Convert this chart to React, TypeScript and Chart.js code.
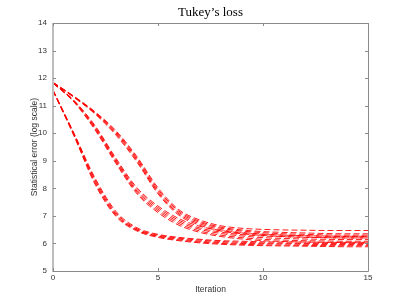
import React, { useEffect, useRef } from "react";
import { Chart, registerables } from "chart.js";

Chart.register(...registerables);

const iterations = [0, 1, 2, 3, 4, 5, 6, 7, 8, 9, 10, 11, 12, 13, 14, 15];

const groupA1 = [11.54, 9.9, 8.15, 6.98, 6.45, 6.22, 6.1, 6.02, 5.97, 5.94, 5.92, 5.91, 5.9, 5.89, 5.88, 5.88];
const groupA2 = [11.55, 9.92, 8.2, 7.02, 6.48, 6.25, 6.13, 6.05, 6.0, 5.97, 5.95, 5.94, 5.93, 5.92, 5.92, 5.92];
const groupA3 = [11.55, 9.95, 8.26, 7.06, 6.5, 6.27, 6.16, 6.08, 6.03, 6.0, 5.99, 5.98, 5.97, 5.96, 5.96, 5.96];
const groupA4 = [11.56, 9.98, 8.32, 7.11, 6.53, 6.3, 6.19, 6.12, 6.07, 6.04, 6.02, 6.01, 6.0, 6.0, 6.0, 6.0];
const groupA5 = [11.57, 10.0, 8.38, 7.16, 6.57, 6.33, 6.22, 6.15, 6.1, 6.08, 6.06, 6.05, 6.05, 6.04, 6.04, 6.04];

const groupB1 = [11.82, 11.13, 10.12, 8.9, 7.8, 7.12, 6.66, 6.4, 6.25, 6.16, 6.1, 6.07, 6.05, 6.04, 6.03, 6.02];
const groupB2 = [11.82, 11.14, 10.16, 8.95, 7.85, 7.18, 6.72, 6.45, 6.3, 6.21, 6.15, 6.12, 6.1, 6.09, 6.08, 6.08];
const groupB3 = [11.82, 11.16, 10.2, 8.99, 7.9, 7.24, 6.78, 6.51, 6.36, 6.27, 6.21, 6.18, 6.16, 6.15, 6.14, 6.14];
const groupB4 = [11.83, 11.18, 10.24, 9.04, 7.96, 7.3, 6.84, 6.56, 6.41, 6.32, 6.27, 6.24, 6.22, 6.21, 6.2, 6.2];
const groupB5 = [11.83, 11.19, 10.28, 9.09, 8.02, 7.36, 6.9, 6.62, 6.47, 6.38, 6.33, 6.3, 6.28, 6.27, 6.26, 6.26];

const groupC1 = [11.83, 11.3, 10.7, 9.93, 8.95, 7.8, 7.02, 6.66, 6.45, 6.35, 6.29, 6.25, 6.23, 6.21, 6.2, 6.2];
const groupC2 = [11.83, 11.31, 10.72, 9.97, 9.0, 7.85, 7.07, 6.71, 6.5, 6.4, 6.34, 6.3, 6.28, 6.26, 6.25, 6.25];
const groupC3 = [11.84, 11.32, 10.74, 10.01, 9.05, 7.9, 7.12, 6.76, 6.55, 6.45, 6.39, 6.35, 6.33, 6.31, 6.3, 6.3];
const groupC4 = [11.84, 11.33, 10.76, 10.05, 9.1, 7.96, 7.17, 6.8, 6.59, 6.49, 6.43, 6.4, 6.38, 6.36, 6.35, 6.35];
const groupC5 = [11.85, 11.34, 10.78, 10.09, 9.15, 8.02, 7.22, 6.85, 6.64, 6.55, 6.51, 6.49, 6.48, 6.47, 6.47, 6.47];

const allSeries = [
  groupA1, groupA2, groupA3, groupA4, groupA5,
  groupB1, groupB2, groupB3, groupB4, groupB5,
  groupC1, groupC2, groupC3, groupC4, groupC5,
];

const xTicks = [0, 5, 10, 15];
const yTicks = [5, 6, 7, 8, 9, 10, 11, 12, 13, 14];

const titleText = "Tukey\u2019s loss";
const xTitle = "Iteration";
const yTitle = "Statistical error (log scale)";

const framePlugin = {
  id: "frame",
  afterDraw(chart: any) {
    const { ctx, chartArea } = chart;
    const { left, right, top, bottom } = chartArea;
    const xs = chart.scales.x;
    const ys = chart.scales.y;
    ctx.save();
    ctx.fillStyle = "#000";
    ctx.font = "13px 'Liberation Serif', serif";
    ctx.textAlign = "center";
    ctx.textBaseline = "middle";
    ctx.fillText(titleText, (left + right) / 2, 12.5);
    ctx.strokeStyle = "#8a8a8a";
    ctx.lineWidth = 1;
    ctx.beginPath();
    ctx.moveTo(left, top + 0.5);
    ctx.lineTo(right + 0.5, top + 0.5);
    ctx.lineTo(right + 0.5, bottom + 0.5);
    ctx.lineTo(left, bottom + 0.5);
    ctx.stroke();
    ctx.strokeStyle = "#bdbdbd";
    ctx.lineWidth = 2;
    ctx.beginPath();
    ctx.moveTo(left, top);
    ctx.lineTo(left, bottom + 1);
    ctx.stroke();
    ctx.strokeStyle = "#8a8a8a";
    ctx.lineWidth = 1;
    const tl = 3;
    ctx.beginPath();
    for (const v of xTicks) {
      const px = Math.round(xs.getPixelForValue(v)) + 0.5;
      ctx.moveTo(px, bottom);
      ctx.lineTo(px, bottom - tl);
      ctx.moveTo(px, top);
      ctx.lineTo(px, top + tl);
    }
    for (const v of yTicks) {
      const py = Math.round(ys.getPixelForValue(v)) + 0.5;
      ctx.moveTo(left, py);
      ctx.lineTo(left + tl, py);
      ctx.moveTo(right, py);
      ctx.lineTo(right - tl, py);
    }
    ctx.stroke();
    ctx.restore();
  },
};

export default function App() {
  const ref = useRef<HTMLCanvasElement | null>(null);
  useEffect(() => {
    if (!ref.current) return;
    const datasets = allSeries.map((s, i) => ({
      label: "run " + (i + 1),
      data: iterations.map((x, j) => ({ x, y: s[j] })),
      borderColor: "#ff0000",
      backgroundColor: "#ff0000",
      borderWidth: 0.9,
      borderDash: [6, 3],
      pointRadius: 0,
      cubicInterpolationMode: "monotone" as const,
      fill: false,
    }));
    const tickFont = { family: "'Liberation Sans', Arial, sans-serif", size: 8 };
    const titleFont = { family: "'Liberation Sans', Arial, sans-serif", size: 8.5 };
    const chart = new Chart(ref.current, {
      type: "line",
      data: { datasets },
      plugins: [framePlugin],
      options: {
        responsive: false,
        animation: false,
        layout: { padding: { top: 23, right: 39, left: 0, bottom: 0 } },
        plugins: {
          legend: { display: false },
          title: { display: false },
          tooltip: { enabled: false },
        },
        scales: {
          x: {
            type: "linear",
            min: 0,
            max: 15,
            afterBuildTicks: (scale: any) => {
              scale.ticks = xTicks.map((v) => ({ value: v }));
            },
            ticks: { font: tickFont, color: "#333", padding: 2, maxRotation: 0 },
            grid: { display: false, drawTicks: false },
            border: { display: false },
            title: {
              display: true,
              text: xTitle,
              font: titleFont,
              color: "#333",
              padding: { top: 0, bottom: 10 },
            },
            afterFit: (scale: any) => {
              scale.height = 34;
            },
          },
          y: {
            type: "linear",
            min: 5,
            max: 14,
            afterBuildTicks: (scale: any) => {
              scale.ticks = yTicks.map((v) => ({ value: v }));
            },
            ticks: { font: tickFont, color: "#333", padding: 6 },
            grid: { display: false, drawTicks: false },
            border: { display: false },
            title: {
              display: true,
              text: yTitle,
              font: titleFont,
              color: "#333",
              padding: { top: 30, bottom: 0 },
            },
            afterFit: (scale: any) => {
              scale.width = 53;
            },
          },
        },
      },
    });
    return () => chart.destroy();
  }, []);
  return (
    <div style={{ position: "absolute", left: 0, top: 0, width: 407, height: 305, background: "#fff" }}>
      <canvas ref={ref} width={407} height={305} style={{ display: "block" }} />
    </div>
  );
}
